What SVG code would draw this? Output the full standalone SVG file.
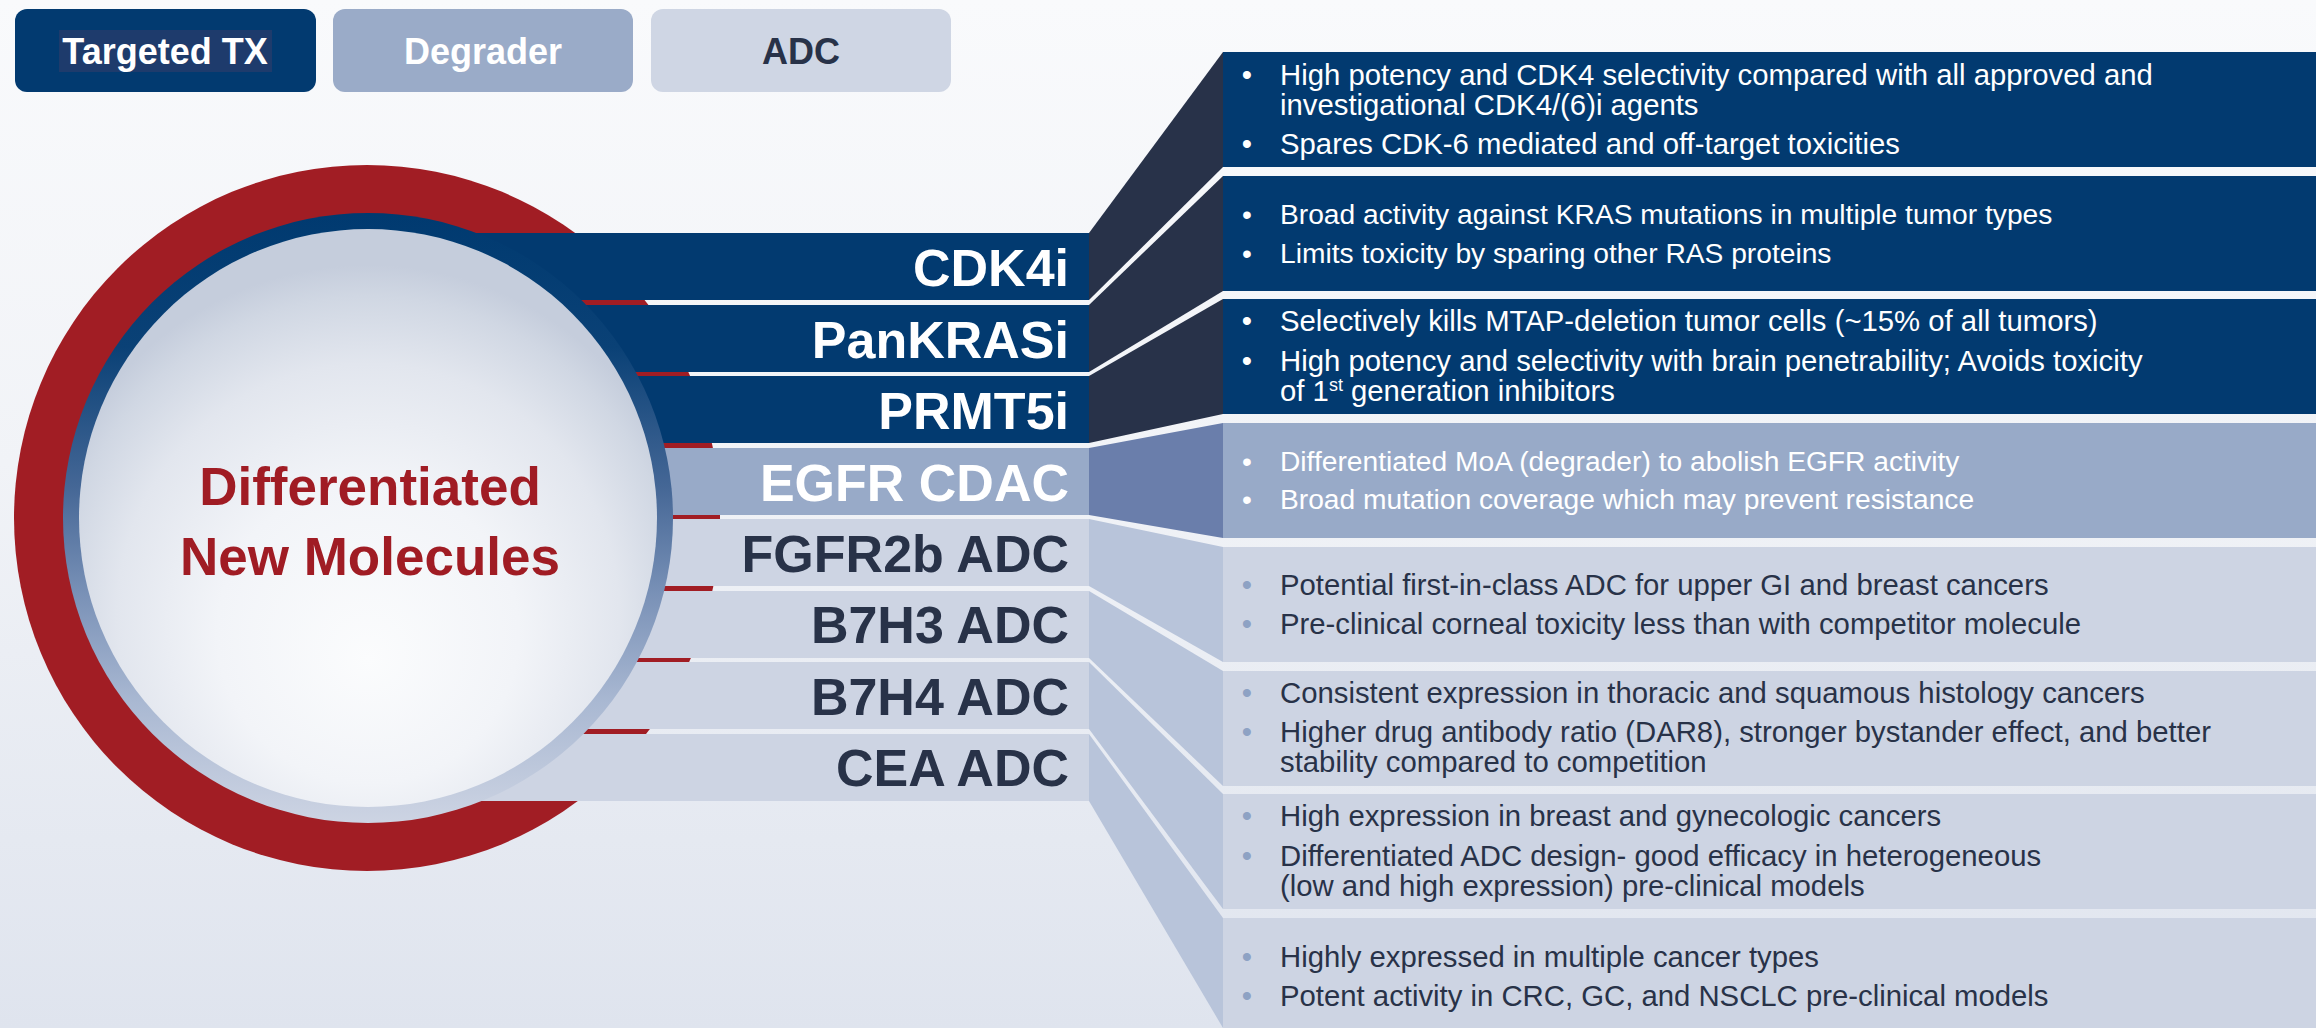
<svg xmlns="http://www.w3.org/2000/svg" width="2316" height="1028" viewBox="0 0 2316 1028">
  <defs>
    <linearGradient id="bg" x1="0" y1="0" x2="0" y2="1">
      <stop offset="0" stop-color="#f9fafc"/>
      <stop offset="0.45" stop-color="#f1f3f7"/>
      <stop offset="1" stop-color="#dfe4ee"/>
    </linearGradient>
    <linearGradient id="ringGrad" gradientUnits="userSpaceOnUse" x1="0" y1="213" x2="0" y2="823">
      <stop offset="0" stop-color="#003a70"/>
      <stop offset="0.22" stop-color="#0a4176"/>
      <stop offset="0.45" stop-color="#456796"/>
      <stop offset="0.62" stop-color="#7890b6"/>
      <stop offset="0.8" stop-color="#a9b8d2"/>
      <stop offset="1" stop-color="#cdd4e3"/>
    </linearGradient>
    <radialGradient id="diskGrad" gradientUnits="userSpaceOnUse" cx="368" cy="600" r="335" fx="368" fy="660">
      <stop offset="0" stop-color="#fbfcfd"/>
      <stop offset="0.45" stop-color="#f2f4f8"/>
      <stop offset="0.75" stop-color="#e2e6ee"/>
      <stop offset="0.92" stop-color="#d0d7e3"/>
      <stop offset="1" stop-color="#c5cddc"/>
    </radialGradient>
    <style>
      .btn { font: bold 36px "Liberation Sans", Arial, sans-serif; text-anchor: middle; }
      .lbl { font: bold 52px "Liberation Sans", Arial, sans-serif; text-anchor: end; }
      .hubtxt { font: bold 53px "Liberation Sans", Arial, sans-serif; text-anchor: middle; fill: #a01c24; }
      .dt { font: 29.3px "Liberation Sans", Arial, sans-serif; }
      .sm .dt { font-size: 28.2px; }
      .bul { text-anchor: middle; }
      .w { fill: #ffffff; }
      .d { fill: #283248; }
      .bl { fill: #8ea2c4; }
      .navy { fill: #023a70; }
      .mid { fill: #98aac8; }
      .pale { fill: #cdd4e3; }
      .side-navy { fill: #283249; }
      .side-mid { fill: #6a7eab; }
      .side-pale { fill: #b8c4da; }
    </style>
  </defs>

  <!-- page background -->
  <rect x="0" y="0" width="2316" height="1028" fill="url(#bg)"/>

  <!-- category legend -->
  <g id="legend-targeted">
    <rect x="15" y="9" width="301" height="83" rx="12" class="navy"/>
    <rect x="59" y="30" width="213" height="42" fill="#1e3b6c"/>
    <text x="165" y="64" class="btn w">Targeted TX</text>
  </g>
  <g id="legend-degrader">
    <rect x="333" y="9" width="300" height="83" rx="12" fill="#9aabc8"/>
    <text x="483" y="64" class="btn w">Degrader</text>
  </g>
  <g id="legend-adc">
    <rect x="651" y="9" width="300" height="83" rx="12" fill="#cfd6e4"/>
    <text x="801" y="64" class="btn d">ADC</text>
  </g>

  <!-- red outer rim of the hub (sits behind the label strips) -->
  <g id="hub-rim">
    <circle cx="367" cy="518" r="353" fill="#a11d24"/>
  </g>

  <!-- label strips -->
  <g id="strip-cdk4i">
    <rect x="368" y="233" width="721" height="67" class="navy"/>
    <text x="1069" y="286" class="lbl w">CDK4i</text>
  </g>
  <g id="strip-pankrasi">
    <rect x="368" y="305" width="721" height="67" class="navy"/>
    <text x="1069" y="358" class="lbl w">PanKRASi</text>
  </g>
  <g id="strip-prmt5i">
    <rect x="368" y="376" width="721" height="67" class="navy"/>
    <text x="1069" y="429" class="lbl w">PRMT5i</text>
  </g>
  <g id="strip-egfr">
    <rect x="368" y="448" width="721" height="67" class="mid"/>
    <text x="1069" y="501" class="lbl w">EGFR CDAC</text>
  </g>
  <g id="strip-fgfr2b">
    <rect x="368" y="519" width="721" height="67" class="pale"/>
    <text x="1069" y="572" class="lbl d">FGFR2b ADC</text>
  </g>
  <g id="strip-b7h3">
    <rect x="368" y="591" width="721" height="67" class="pale"/>
    <text x="1069" y="643" class="lbl d">B7H3 ADC</text>
  </g>
  <g id="strip-b7h4">
    <rect x="368" y="662" width="721" height="67" class="pale"/>
    <text x="1069" y="715" class="lbl d">B7H4 ADC</text>
  </g>
  <g id="strip-cea">
    <rect x="368" y="734" width="721" height="67" class="pale"/>
    <text x="1069" y="786" class="lbl d">CEA ADC</text>
  </g>

  <!-- hub disc with inner ring -->
  <g id="hub">
    <circle cx="368" cy="518" r="305" fill="url(#ringGrad)"/>
    <circle cx="368" cy="518" r="289" fill="url(#diskGrad)"/>
    <text x="370" y="505" class="hubtxt">Differentiated</text>
    <text x="370" y="575" class="hubtxt">New Molecules</text>
  </g>

  <!-- fan-out side faces linking each strip to its detail panel -->
  <g id="connectors">
    <polygon points="1089,233 1223,52 1223,167 1089,300" class="side-navy"/>
    <polygon points="1089,305 1223,176 1223,291 1089,372" class="side-navy"/>
    <polygon points="1089,376 1223,299 1223,414 1089,443" class="side-navy"/>
    <polygon points="1089,448 1223,423 1223,538 1089,515" class="side-mid"/>
    <polygon points="1089,519 1223,547 1223,662 1089,586" class="side-pale"/>
    <polygon points="1089,591 1223,671 1223,786 1089,658" class="side-pale"/>
    <polygon points="1089,662 1223,794 1223,909 1089,729" class="side-pale"/>
    <polygon points="1089,734 1223,918 1223,1028 1089,801" class="side-pale"/>
  </g>

  <!-- detail panels -->
  <g id="detail-cdk4i">
    <rect x="1223" y="52" width="1093" height="115" class="navy"/>
    <text x="1247" y="85" class="dt bul w">•</text>
    <text x="1280" y="85" class="dt w">High potency and CDK4 selectivity compared with all approved and</text>
    <text x="1280" y="115" class="dt w">investigational CDK4/(6)i agents</text>
    <text x="1247" y="154" class="dt bul w">•</text>
    <text x="1280" y="154" class="dt w">Spares CDK-6 mediated and off-target toxicities</text>
  </g>
  <g id="detail-pankrasi" class="sm">
    <rect x="1223" y="176" width="1093" height="115" class="navy"/>
    <text x="1247" y="224" class="dt bul w">•</text>
    <text x="1280" y="224" class="dt w">Broad activity against KRAS mutations in multiple tumor types</text>
    <text x="1247" y="263" class="dt bul w">•</text>
    <text x="1280" y="263" class="dt w">Limits toxicity by sparing other RAS proteins</text>
  </g>
  <g id="detail-prmt5i">
    <rect x="1223" y="299" width="1093" height="115" class="navy"/>
    <text x="1247" y="331" class="dt bul w">•</text>
    <text x="1280" y="331" class="dt w">Selectively kills MTAP-deletion tumor cells (~15% of all tumors)</text>
    <text x="1247" y="371" class="dt bul w">•</text>
    <text x="1280" y="371" class="dt w">High potency and selectivity with brain penetrability; Avoids toxicity</text>
    <text x="1280" y="401" class="dt w">of 1<tspan dy="-10" font-size="18">st</tspan><tspan dy="10"> generation inhibitors</tspan></text>
  </g>
  <g id="detail-egfr" class="sm">
    <rect x="1223" y="423" width="1093" height="115" class="mid"/>
    <text x="1247" y="471" class="dt bul w">•</text>
    <text x="1280" y="471" class="dt w">Differentiated MoA (degrader) to abolish EGFR activity</text>
    <text x="1247" y="509" class="dt bul w">•</text>
    <text x="1280" y="509" class="dt w">Broad mutation coverage which may prevent resistance</text>
  </g>
  <g id="detail-fgfr2b">
    <rect x="1223" y="547" width="1093" height="115" class="pale"/>
    <text x="1247" y="595" class="dt bul bl">•</text>
    <text x="1280" y="595" class="dt d">Potential first-in-class ADC for upper GI and breast cancers</text>
    <text x="1247" y="634" class="dt bul bl">•</text>
    <text x="1280" y="634" class="dt d">Pre-clinical corneal toxicity less than with competitor molecule</text>
  </g>
  <g id="detail-b7h3">
    <rect x="1223" y="671" width="1093" height="115" class="pale"/>
    <text x="1247" y="703" class="dt bul bl">•</text>
    <text x="1280" y="703" class="dt d">Consistent expression in thoracic and squamous histology cancers</text>
    <text x="1247" y="742" class="dt bul bl">•</text>
    <text x="1280" y="742" class="dt d">Higher drug antibody ratio (DAR8), stronger bystander effect, and better</text>
    <text x="1280" y="772" class="dt d">stability compared to competition</text>
  </g>
  <g id="detail-b7h4">
    <rect x="1223" y="794" width="1093" height="115" class="pale"/>
    <text x="1247" y="826" class="dt bul bl">•</text>
    <text x="1280" y="826" class="dt d">High expression in breast and gynecologic cancers</text>
    <text x="1247" y="866" class="dt bul bl">•</text>
    <text x="1280" y="866" class="dt d">Differentiated ADC design- good efficacy in heterogeneous</text>
    <text x="1280" y="896" class="dt d">(low and high expression) pre-clinical models</text>
  </g>
  <g id="detail-cea">
    <rect x="1223" y="918" width="1093" height="110" class="pale"/>
    <text x="1247" y="967" class="dt bul bl">•</text>
    <text x="1280" y="967" class="dt d">Highly expressed in multiple cancer types</text>
    <text x="1247" y="1006" class="dt bul bl">•</text>
    <text x="1280" y="1006" class="dt d">Potent activity in CRC, GC, and NSCLC pre-clinical models</text>
  </g>
</svg>
